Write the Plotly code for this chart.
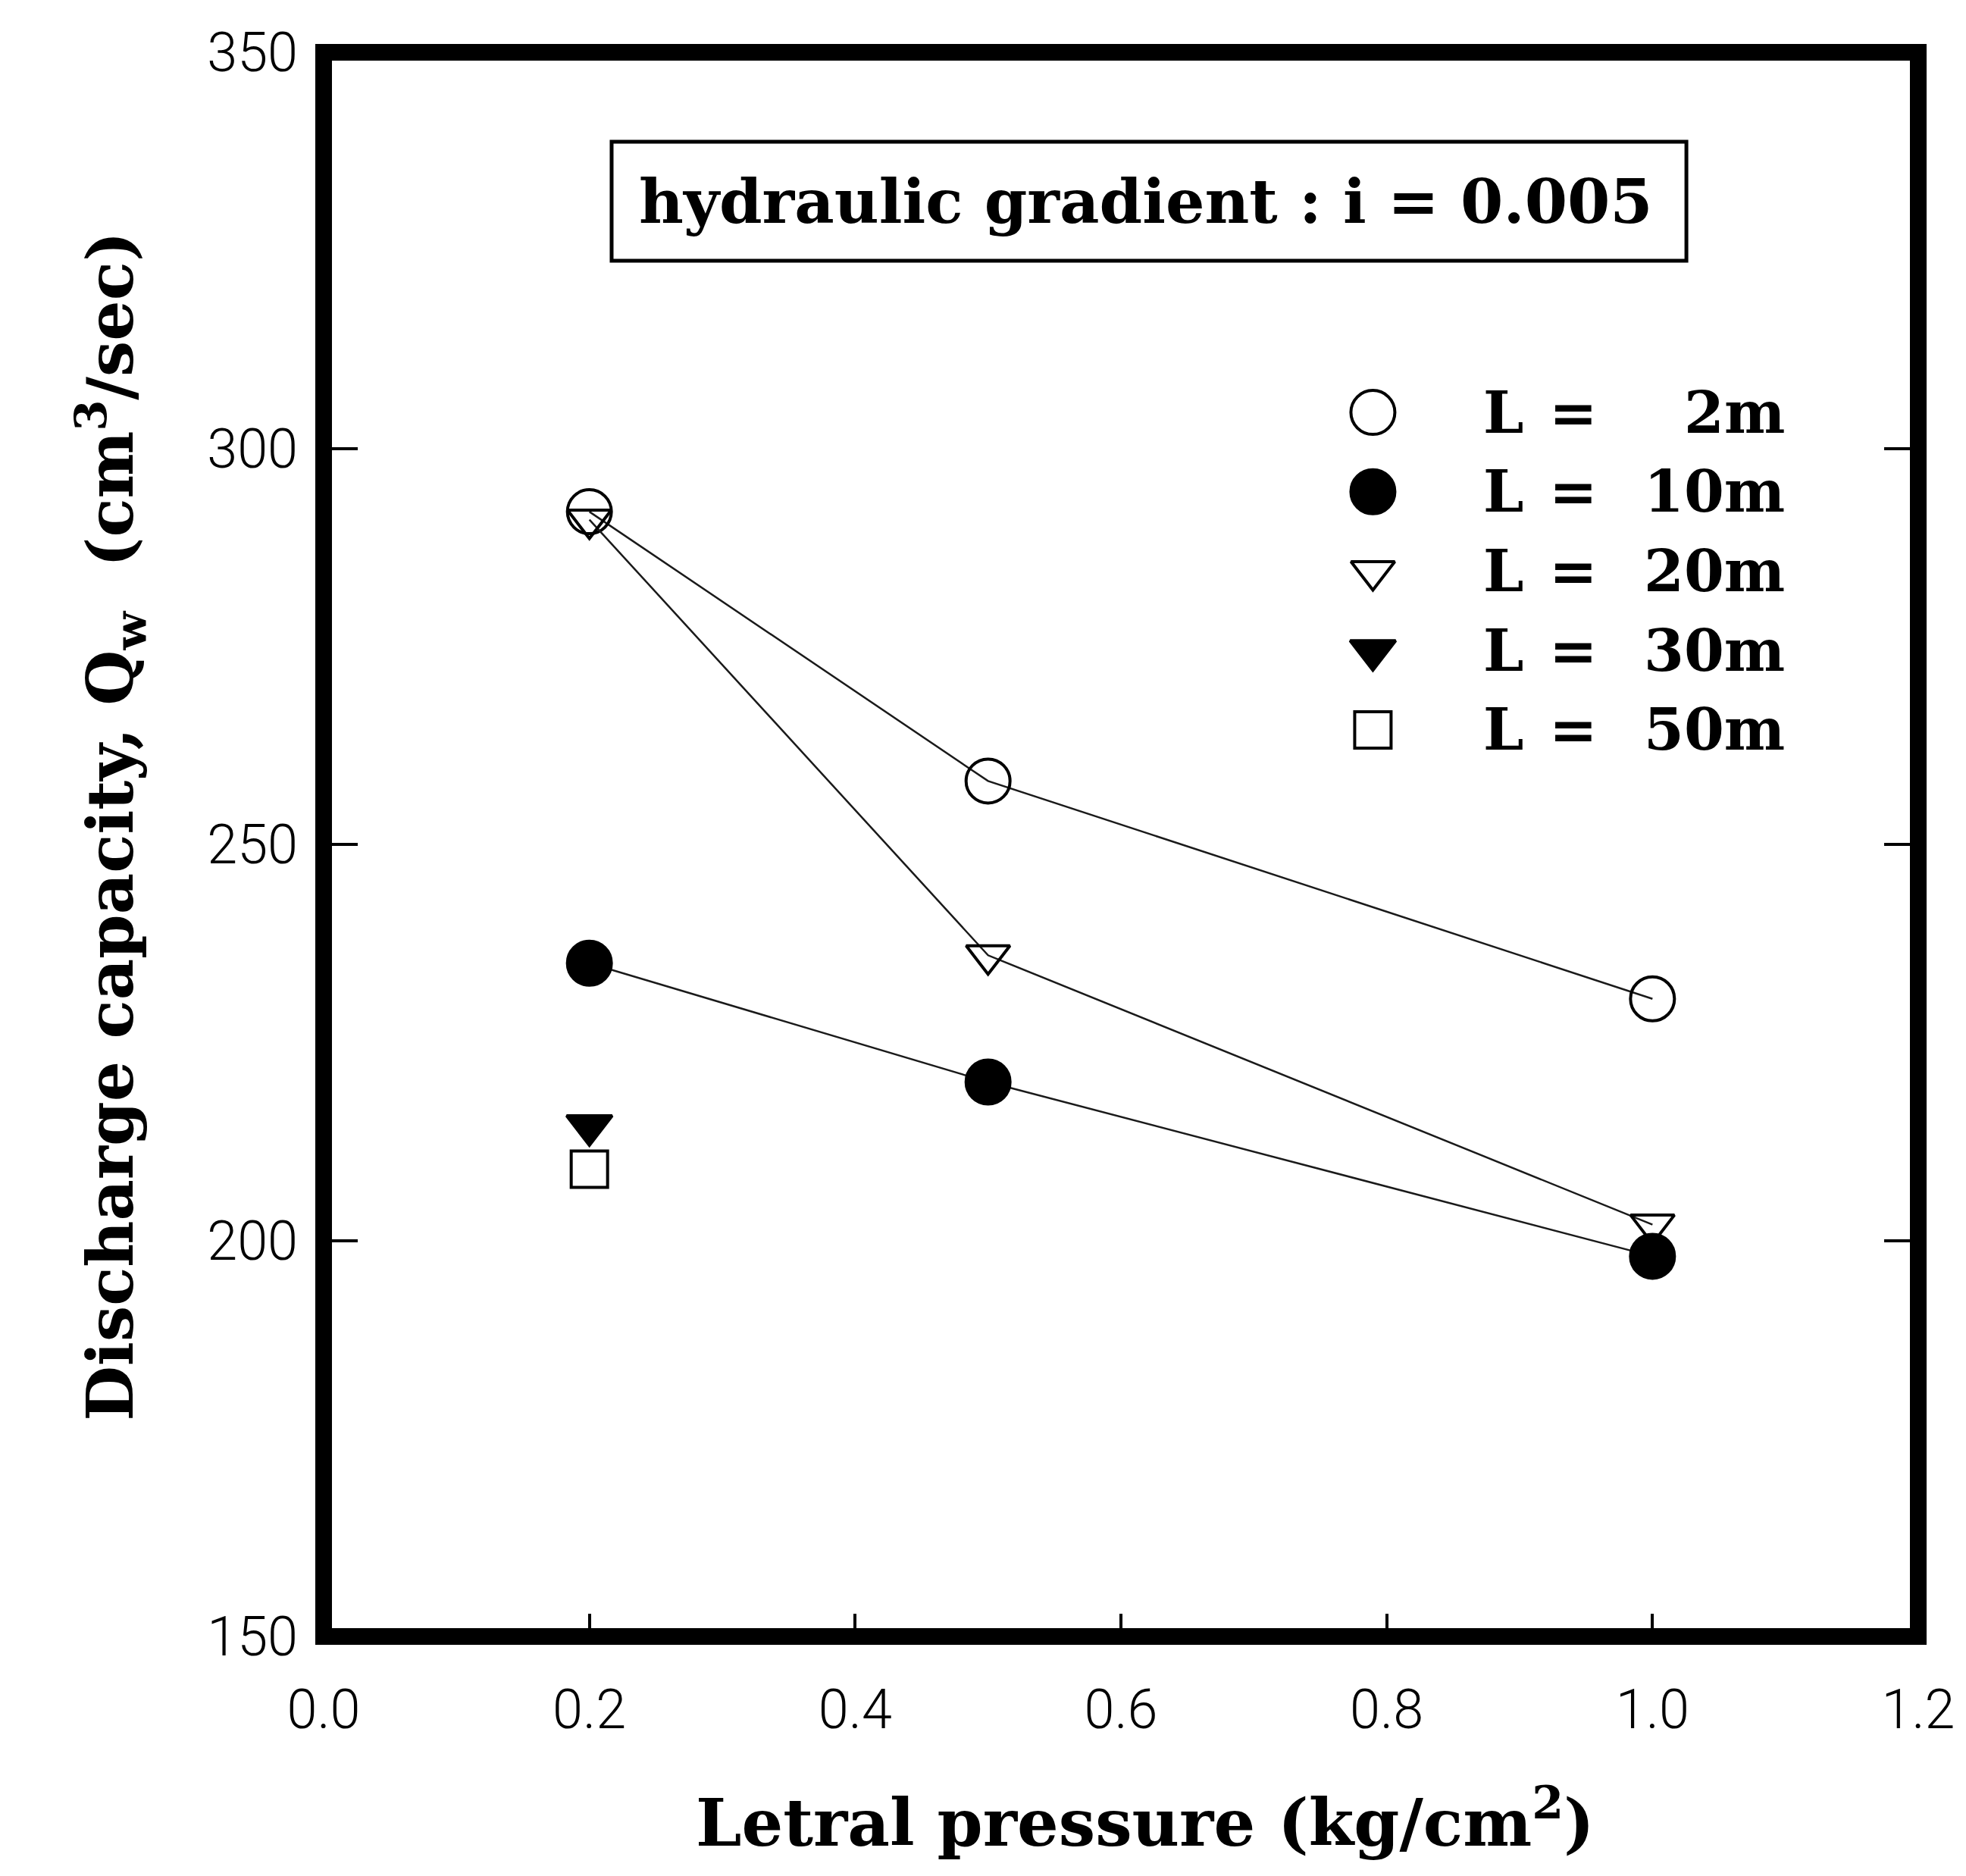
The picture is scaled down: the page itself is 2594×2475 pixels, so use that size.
import plotly.graph_objects as go

# ---------------- data ----------------
pressure = [0.2, 0.5, 1.0]
q_L2 = [292, 258, 230.5]
q_L10 = [235, 220, 198]
q_L20 = [291, 236, 202]
p_single = [0.2]
q_L30 = [214.5]
q_L50 = [209]

lengths = [2, 10, 20, 30, 50]
x_ticks = [0.0, 0.2, 0.4, 0.6, 0.8, 1.0, 1.2]
x_ticklabels = ["0.0", "0.2", "0.4", "0.6", "0.8", "1.0", "1.2"]
y_ticks = [150, 200, 250, 300, 350]
y_ticklabels = ["150", "200", "250", "300", "350"]

x_title = "Letral pressure (kg/cm<sup>2</sup>)"
y_title = "Discharge capacity, Q<sub>w</sub>  (cm<sup>3</sup>/sec)"
box_text = "hydraulic gradient : i = 0.005"

# ---------------- styles ----------------
def bold(size):
    return dict(family="DejaVu Serif", size=size, color="black", weight="bold")

TICKF = dict(family="Roboto", size=72, color="black", weight=300)
LINE = dict(color="#1a1a1a", width=2.5)

series = [
    (pressure, q_L2, "circle-open", 58, "lines+markers"),
    (pressure, q_L10, "circle", 58, "lines+markers"),
    (pressure, q_L20, "triangle-down-open", 50, "lines+markers"),
    (p_single, q_L30, "triangle-down", 52, "markers"),
    (p_single, q_L50, "square-open", 48, "markers"),
]

fig = go.Figure()
for xs, ys, sym, size, mode in series:
    fig.add_trace(go.Scatter(
        x=xs, y=ys, mode=mode, line=LINE, showlegend=False,
        marker=dict(symbol=sym, size=size, color="black",
                    line=dict(color="black", width=4)),
    ))

# ---------------- custom legend (overlay axes in paper units) ----------------
leg_x = 0.658
leg_y0 = 0.7727
leg_step = 0.0501
leg_rows = [leg_y0 - i * leg_step for i in range(len(lengths))]
for (xs, ys, sym, size, mode), yy in zip(series, leg_rows):
    fig.add_trace(go.Scatter(
        x=[leg_x], y=[yy], mode="markers", xaxis="x2", yaxis="y2",
        showlegend=False,
        marker=dict(symbol=sym, size=size, color="black",
                    line=dict(color="black", width=4)),
    ))

annotations = []
LEGF = bold(76)
for L, yy in zip(lengths, leg_rows):
    annotations.append(dict(x=0.7262, y=yy, xref="paper", yref="paper", text="L",
                            showarrow=False, xanchor="left", yanchor="middle", font=LEGF))
    annotations.append(dict(x=0.7837, y=yy, xref="paper", yref="paper", text="=",
                            showarrow=False, xanchor="center", yanchor="middle", font=LEGF))
    annotations.append(dict(x=0.9173, y=yy, xref="paper", yref="paper", text=f"{L}m",
                            showarrow=False, xanchor="right", yanchor="middle", font=LEGF))

annotations.append(dict(x=0.5157, y=0.9062, xref="paper", yref="paper", text=box_text,
                        showarrow=False, xanchor="center", yanchor="middle", font=bold(81)))
annotations.append(dict(x=0.515, y=-0.1148, xref="paper", yref="paper", text=x_title,
                        showarrow=False, xanchor="center", yanchor="middle", font=bold(86)))
annotations.append(dict(x=-0.1336, y=0.5115, xref="paper", yref="paper", text=y_title,
                        showarrow=False, xanchor="center", yanchor="middle", textangle=-90,
                        font=bold(84)))

shapes = [
    dict(type="rect", xref="paper", yref="paper", x0=0, x1=1, y0=0, y1=1,
         line=dict(color="black", width=22), layer="above"),
    dict(type="rect", xref="paper", yref="paper", x0=0.1806, x1=0.8546,
         y0=0.8684, y1=0.9435, line=dict(color="black", width=5)),
]

fig.update_layout(
    width=2594, height=2475,
    margin=dict(l=427, r=63, t=69, b=316),
    paper_bgcolor="white", plot_bgcolor="white",
    showlegend=False,
    annotations=annotations, shapes=shapes,
    xaxis=dict(range=[0, 1.2], tickvals=x_ticks, ticktext=x_ticklabels,
               ticks="inside", ticklen=30, tickwidth=4, tickcolor="black",
               showline=False, showgrid=False, zeroline=False,
               tickfont=TICKF, ticklabelstandoff=48,
               minor=dict(dtick=0.1, ticks="inside", ticklen=10, tickwidth=3,
                          tickcolor="black", showgrid=False)),
    yaxis=dict(range=[150, 350], tickvals=y_ticks, ticktext=y_ticklabels,
               ticks="inside", ticklen=45, tickwidth=4, tickcolor="black",
               mirror="ticks", showline=False, showgrid=False, zeroline=False,
               tickfont=TICKF, ticklabelstandoff=33),
    xaxis2=dict(range=[0, 1], overlaying="x", visible=False),
    yaxis2=dict(range=[0, 1], overlaying="y", visible=False),
)

fig.write_html("out.html")
